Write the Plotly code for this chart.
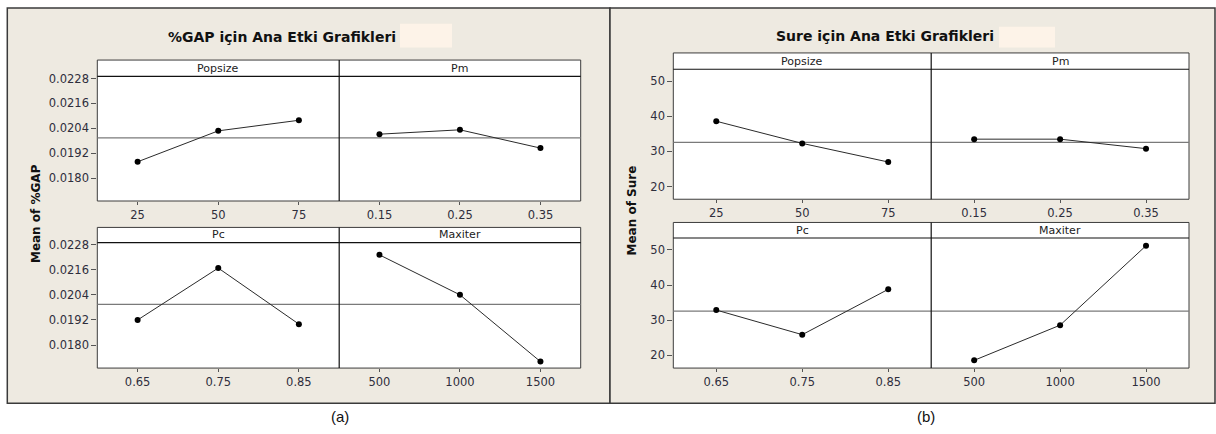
import plotly.graph_objects as go

# ---------------- data ----------------
popsize_levels = ["25", "50", "75"]
pm_levels = ["0.15", "0.25", "0.35"]
pc_levels = ["0.65", "0.75", "0.85"]
maxiter_levels = ["500", "1000", "1500"]

gap_popsize = [0.01879, 0.02028, 0.02079]
gap_pm = [0.02012, 0.02033, 0.01945]
gap_pc = [0.01920, 0.02168, 0.01900]
gap_maxiter = [0.02231, 0.02040, 0.01721]
gap_mean = 0.01994
gap_yticks = [0.0180, 0.0192, 0.0204, 0.0216, 0.0228]

sure_popsize = [38.6, 32.3, 27.0]
sure_pm = [33.5, 33.5, 30.8]
sure_pc = [32.9, 25.9, 38.8]
sure_maxiter = [18.6, 28.6, 51.2]
sure_mean = 32.6
sure_yticks = [20, 30, 40, 50]

factor_names = ["Popsize", "Pm", "Pc", "Maxiter"]

# ---------------- layout helpers ----------------
W, H = 1216, 434
def px(x): return x / W
def py(y): return 1 - y / H

BEIGE = "#EEEAE1"
TICKC = "#2e2e3c"
FONT = "DejaVu Sans"

panels = [
    dict(title="%GAP için Ana Etki Grafikleri", ylabel="Mean of %GAP",
         levels=[popsize_levels, pm_levels, pc_levels, maxiter_levels],
         values=[gap_popsize, gap_pm, gap_pc, gap_maxiter],
         mean=gap_mean, yticks=gap_yticks, yrange=[0.01690, 0.02290], fmt=".4f",
         x0=97.3, xm=339.2, x1=580.7,
         rows=[(55.7, 72.3, 198.3), (225.0, 240.3, 367.3)],
         box=(7.3, 3, 610, 403), title_xy=(282, 32), red=(400, 19, 452, 43),
         ylab_x=36, tag="(a)", tag_x=340),
    dict(title="Sure için Ana Etki Grafikleri", ylabel="Mean of Sure",
         levels=[popsize_levels, pm_levels, pc_levels, maxiter_levels],
         values=[sure_popsize, sure_pm, sure_pc, sure_maxiter],
         mean=sure_mean, yticks=sure_yticks, yrange=[16.4, 53.4], fmt="",
         x0=673.3, xm=931.2, x1=1189.0,
         rows=[(48.5, 65.0, 196.5), (220.0, 235.7, 367.3)],
         box=(610, 3, 1215, 403), title_xy=(885, 31), red=(999, 22, 1055, 43),
         ylab_x=632, tag="(b)", tag_x=926),
]

fig = go.Figure()
layout = dict(width=W, height=H, margin=dict(l=0, r=0, t=0, b=0),
              paper_bgcolor="white", plot_bgcolor="rgba(0,0,0,0)",
              showlegend=False)
shapes = []
annotations = []

def ann(x, y, text, size, family=FONT, color="#111111", angle=0):
    return dict(x=px(x), y=py(y), xref="paper", yref="paper", text=text,
                showarrow=False, xanchor="center", yanchor="middle",
                textangle=angle, font=dict(family=family, size=size, color=color))

# background boxes first
for p in panels:
    bx0, by0, bx1, by1 = p["box"]
    shapes.append(dict(type="rect", xref="paper", yref="paper", layer="below",
                       x0=px(bx0), x1=px(bx1), y0=py(by1), y1=py(by0),
                       fillcolor=BEIGE, line=dict(color="#3a3a3a", width=1.5)))
    rx0, ry0, rx1, ry1 = p["red"]
    shapes.append(dict(type="rect", xref="paper", yref="paper", layer="below",
                       x0=px(rx0), x1=px(rx1), y0=py(ry1), y1=py(ry0),
                       fillcolor="#FDF3E8", line=dict(width=0)))

k = 0
for p in panels:
    for (ft, st, fb) in p["rows"]:
        shapes.append(dict(type="rect", xref="paper", yref="paper", layer="below",
                           x0=px(p["x0"]), x1=px(p["x1"]), y0=py(fb), y1=py(ft),
                           fillcolor="white", line=dict(color="#3c3c3c", width=1)))
    for (ft, st, fb) in p["rows"]:
        shapes.append(dict(type="line", xref="paper", yref="paper",
                           x0=px(p["x0"]), x1=px(p["x1"]), y0=py(st), y1=py(st),
                           line=dict(color="#111111", width=1.2)))
        shapes.append(dict(type="line", xref="paper", yref="paper",
                           x0=px(p["xm"]), x1=px(p["xm"]), y0=py(fb), y1=py(ft),
                           line=dict(color="#111111", width=1.2)))
    for i in range(4):
        k += 1
        r, c = divmod(i, 2)
        ft, st, fb = p["rows"][r]
        xa, xb = (p["x0"], p["xm"]) if c == 0 else (p["xm"], p["x1"])
        sx = "" if k == 1 else str(k)
        layout["xaxis" + sx] = dict(
            domain=[px(xa), px(xb)], anchor="y" + sx, type="category",
            range=[-0.5, 2.5], showgrid=False, zeroline=False, showline=False,
            ticks="outside", ticklen=3, tickcolor="#555555", tickwidth=1,
            tickfont=dict(family=FONT, size=11.5, color=TICKC), fixedrange=True)
        yax = dict(domain=[py(fb), py(st)], anchor="x" + sx, range=p["yrange"],
                   showgrid=False, zeroline=False, showline=False, fixedrange=True,
                   tickfont=dict(family=FONT, size=11.5, color=TICKC))
        if c == 0:
            yax.update(tickmode="array", tickvals=p["yticks"], ticks="outside",
                       ticklen=5, tickcolor="#555555", tickwidth=1,
                       tickformat=p["fmt"])
        else:
            yax.update(showticklabels=False, ticks="")
        layout["yaxis" + sx] = yax

        fig.add_trace(go.Scatter(
            x=p["levels"][i], y=p["values"][i], xaxis="x" + sx, yaxis="y" + sx,
            mode="lines+markers", line=dict(color="#2a2a2a", width=1),
            marker=dict(color="black", size=6), hoverinfo="skip"))
        shapes.append(dict(type="line", xref="x" + sx + " domain", yref="y" + sx,
                           x0=0, x1=1, y0=p["mean"], y1=p["mean"],
                           layer="below", line=dict(color="#7a7a7a", width=1.3)))
        annotations.append(ann((xa + xb) / 2, (ft + st) / 2, factor_names[i], 11,
                               color="#222222"))

    tx, ty = p["title_xy"]
    annotations.append(ann(tx, ty, "<b>" + p["title"] + "</b>", 14))
    ymid = (p["rows"][0][0] + p["rows"][1][2]) / 2
    annotations.append(ann(p["ylab_x"], ymid, "<b>" + p["ylabel"] + "</b>", 12,
                           angle=-90))
    annotations.append(ann(p["tag_x"], 416, p["tag"], 15, family="Liberation Sans"))

layout["shapes"] = shapes
layout["annotations"] = annotations
fig.update_layout(**layout)
fig.write_html("out.html")
